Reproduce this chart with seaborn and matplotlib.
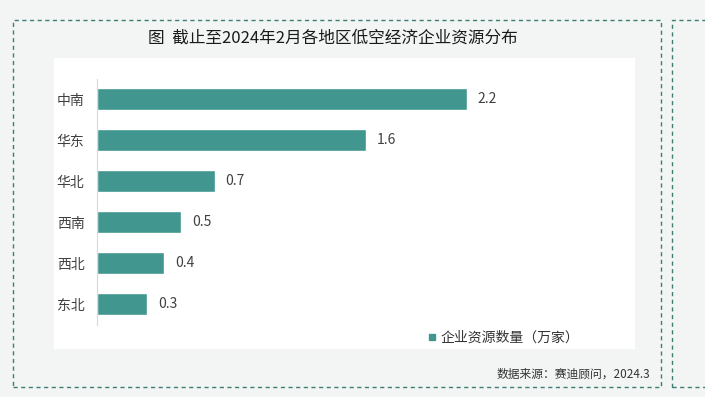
import pandas as pd
import seaborn as sns
import matplotlib.pyplot as plt
from matplotlib.patches import Rectangle
from matplotlib.lines import Line2D

regions = ['中南', '华东', '华北', '西南', '西北', '东北']
counts = [2.2, 1.6, 0.7, 0.5, 0.4, 0.3]
title = '图  截止至2024年2月各地区低空经济企业资源分布'
legend_label = '企业资源数量（万家）'
source = '数据来源：赛迪顾问，2024.3'

sns.set_style('white')
plt.rcParams['font.family'] = ['Noto Sans CJK SC', 'DejaVu Sans']

W, H = 705, 397
bar_col = '#41968f'
dash_col = '#3f7d72'
bg_col = '#f3f5f5'


def fx(px):
    return px / W


def fy(py):
    return 1 - py / H


fig = plt.figure(figsize=(W / 100, H / 100), dpi=100, facecolor=bg_col)

# slide decorations: dashed frames and white chart panel (behind the axes)
fig.patches.append(Rectangle((fx(13), fy(387)), fx(661) - fx(13), fy(20) - fy(387),
                             transform=fig.transFigure, fill=False, ec=dash_col,
                             lw=1.0, ls=(0, (3, 2.5)), zorder=-2))
fig.patches.append(Rectangle((fx(672), fy(387)), fx(740) - fx(672), fy(20) - fy(387),
                             transform=fig.transFigure, fill=False, ec=dash_col,
                             lw=1.0, ls=(0, (3, 2.5)), zorder=-2))
fig.patches.append(Rectangle((fx(54), fy(349)), fx(635) - fx(54), fy(58) - fy(349),
                             transform=fig.transFigure, fc='white', ec='none', zorder=-1))

fig.text(fx(333), fy(38), title, ha='center', va='center', fontsize=12, color='#1a1a1a')
fig.text(fx(650), fy(374), source, ha='right', va='center', fontsize=8.5, color='#333333')

# bar axes: x=0 at pixel 97, 168 px per unit
ax = fig.add_axes([fx(97), fy(324.5), 3.0 * 168 / W, 246 / H])
ax.set_facecolor('none')
df = pd.DataFrame({'region': regions, 'count': counts})
sns.barplot(data=df, x='count', y='region', orient='h', color=bar_col,
            saturation=1, width=0.54, ax=ax)
ax.set_xlim(0, 3.0)
ax.set_ylim(5.5, -0.5)
for c in ax.containers:
    ax.bar_label(c, fmt='%.1f', padding=8, fontsize=10, color='#404040')

ax.set_xlabel('')
ax.set_ylabel('')
ax.set_xticks([])
ax.tick_params(axis='y', length=0, pad=9, labelsize=10, labelcolor='#404040')
for s in ['top', 'right', 'bottom']:
    ax.spines[s].set_visible(False)
ax.spines['left'].set_color('#d9d9d9')
ax.spines['left'].set_linewidth(0.8)

handle = Line2D([], [], marker='s', color=bar_col, linestyle='', markersize=5)
fig.legend([handle], [legend_label], loc='center left',
           bbox_to_anchor=(fx(414), fy(338)), frameon=False, fontsize=10,
           handlelength=0.8, handletextpad=0.2, labelcolor='#333333')

fig.savefig('out.png', dpi=100, facecolor=bg_col)
